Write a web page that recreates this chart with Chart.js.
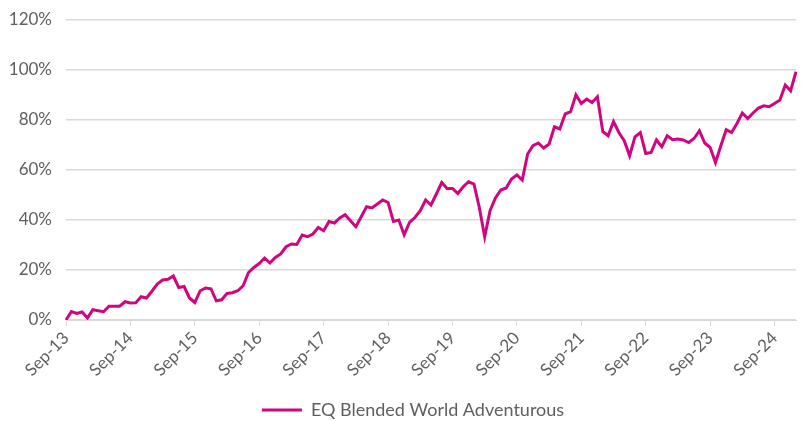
<!DOCTYPE html>
<html>
<head>
<meta charset="utf-8">
<script src="https://cdn.jsdelivr.net/npm/chart.js@4"></script>
<style>
  html, body { margin: 0; padding: 0; background: #ffffff; }
  #wrap { width: 801px; height: 421px; }
</style>
</head>
<body>
<div id="wrap"><canvas id="c" width="801" height="421"></canvas></div>
<script>
// Series: EQ Blended World Adventurous, cumulative return (%), monthly Sep-13 .. Jan-25
const seriesName = 'EQ Blended World Adventurous';
const startMonth = 8;   // September (0-based)
const startYear = 2013;
const values = [
  0, 3.4, 2.6, 3.2, 0.8, 4.1, 3.7, 3.3, 5.5, 5.5, 5.5, 7.3,
  6.8, 6.9, 9.3, 8.8, 11.5, 14.4, 16.0, 16.3, 17.6, 13.0, 13.4, 8.8,
  7.0, 11.7, 12.8, 12.5, 7.7, 8.1, 10.6, 10.9, 11.7, 13.7, 19.0, 21.0,
  22.6, 24.8, 22.8, 25.0, 26.4, 29.3, 30.4, 30.2, 34.0, 33.3, 34.4, 37.0,
  35.7, 39.4, 38.8, 40.8, 42.1, 39.7, 37.3, 41.3, 45.3, 44.8, 46.4, 48.0,
  47.0, 39.4, 40.0, 34.1, 39.0, 41.0, 43.7, 48.0, 46.0, 50.4, 55.0, 52.6,
  52.6, 50.6, 53.3, 55.3, 54.4, 45.0, 33.3, 43.7, 48.8, 52.0, 52.8, 56.4,
  58.0, 56.0, 66.4, 69.7, 70.8, 68.8, 70.4, 77.3, 76.4, 82.4, 83.3, 90.1,
  86.6, 88.4, 87.0, 89.3, 75.4, 73.7, 79.4, 75.0, 71.7, 65.7, 73.3, 75.0,
  66.6, 67.0, 72.0, 69.3, 73.7, 72.1, 72.4, 72.0, 71.0, 72.6, 75.7, 70.8,
  69.0, 63.0, 69.7, 76.1, 75.0, 78.6, 82.8, 80.6, 82.8, 84.8, 85.7, 85.3,
  86.6, 88.0, 94.0, 91.7, 99.3
];
const monthNames = ['Jan','Feb','Mar','Apr','May','Jun','Jul','Aug','Sep','Oct','Nov','Dec'];
const categories = values.map((v, i) => {
  const m = (startMonth + i) % 12;
  const y = startYear + Math.floor((startMonth + i) / 12);
  return monthNames[m] + '-' + String(y).slice(2);
});
const yTicks = [0, 20, 40, 60, 80, 100, 120];

const lineColor = '#CF0680';
const textColor = '#5f5f5f';
const gridColor = '#d9d9d9';
const fontFamily = 'Lato, "Open Sans", sans-serif';

// nudge the legend into the reference position (below the axis labels, slightly right of centre)
const legendShift = {
  id: 'legendShift',
  afterLayout(chart) {
    const l = chart.legend;
    if (!l) return;
    l.left += 15; l.right += 15;
    l.top += 8; l.bottom += 8;
  }
};

new Chart(document.getElementById('c'), {
  type: 'line',
  data: {
    labels: categories,
    datasets: [{
      label: seriesName,
      data: values,
      borderColor: lineColor,
      backgroundColor: lineColor,
      borderWidth: 3,
      pointRadius: 0,
      tension: 0,
      fill: false
    }]
  },
  plugins: [legendShift],
  options: {
    responsive: false,
    animation: false,
    layout: { padding: { top: 20, right: 5, left: 0, bottom: 0 } },
    plugins: {
      tooltip: { enabled: false },
      legend: {
        position: 'bottom',
        labels: {
          color: textColor,
          font: { family: fontFamily, size: 18 },
          boxWidth: 40,
          boxHeight: 3,
          padding: 0,
          generateLabels: function(chart) {
            return Chart.defaults.plugins.legend.labels.generateLabels(chart)
              .map(item => Object.assign({}, item, { lineWidth: 0 }));
          }
        }
      }
    },
    scales: {
      x: {
        type: 'category',
        offset: false,
        border: { display: true, color: gridColor, width: 1 },
        grid: {
          display: true,
          drawOnChartArea: false,
          drawTicks: true,
          tickLength: 6,
          color: gridColor
        },
        ticks: {
          autoSkip: false,
          minRotation: 45,
          maxRotation: 45,
          padding: 2,
          color: textColor,
          font: { family: fontFamily, size: 17 },
          callback: function(val, idx) {
            return idx % 12 === 0 ? categories[idx] : null;
          }
        },
        afterFit: function(scale) { scale.height = 73; }
      },
      y: {
        min: 0,
        max: 120,
        border: { display: false },
        grid: { color: gridColor, lineWidth: 1.5, drawTicks: false },
        afterFit: function(scale) {
          scale.width = 66;
          scale.paddingTop = 0;
          scale.paddingBottom = 0;
        },
        ticks: {
          stepSize: 20,
          padding: 14,
          color: textColor,
          font: { family: fontFamily, size: 17 },
          callback: function(v) { return yTicks.includes(v) ? v + '%' : null; }
        }
      }
    }
  }
});
</script>
</body>
</html>
